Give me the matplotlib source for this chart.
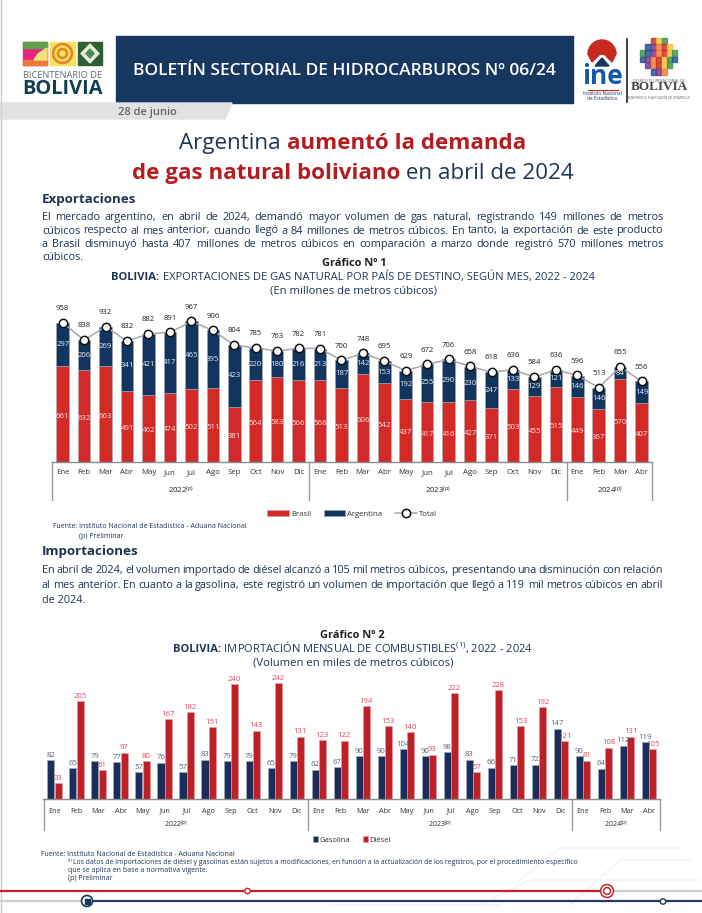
import matplotlib
matplotlib.use("Agg")
import matplotlib.pyplot as plt
from matplotlib.patches import Rectangle, Polygon, Circle, Wedge

plt.rcParams['font.family'] = ['Open Sans', 'DejaVu Sans']
plt.rcParams['mathtext.default'] = 'regular'

# datos grafico 1
meses = ['Ene', 'Feb', 'Mar', 'Abr', 'May', 'Jun', 'Jul', 'Ago', 'Sep', 'Oct', 'Nov', 'Dic',
         'Ene', 'Feb', 'Mar', 'Abr', 'May', 'Jun', 'Jul', 'Ago', 'Sep', 'Oct', 'Nov', 'Dic',
         'Ene', 'Feb', 'Mar', 'Abr']
brasil = [661, 632, 663, 491, 462, 474, 502, 511, 381, 564, 583, 566,
          568, 513, 606, 542, 437, 417, 416, 427, 371, 503, 455, 515,
          449, 367, 570, 407]
argentina = [297, 206, 269, 341, 421, 417, 465, 395, 423, 220, 180, 216,
             213, 187, 142, 153, 192, 255, 290, 230, 247, 133, 129, 121,
             146, 146, 84, 149]
total = [958, 838, 932, 832, 882, 891, 967, 906, 804, 785, 763, 782,
         781, 700, 748, 695, 629, 672, 706, 658, 618, 636, 584, 636,
         596, 513, 655, 556]

# datos grafico 2
gasolina = [82, 65, 79, 77, 57, 76, 57, 83, 79, 79, 65, 79,
            62, 67, 90, 90, 104, 90, 98, 83, 66, 71, 72, 147,
            90, 64, 112, 119]
diesel = [33, 205, 61, 97, 80, 167, 182, 151, 240, 143, 242, 131,
          123, 122, 194, 153, 140, 93, 222, 57, 228, 153, 192, 121,
          81, 108, 131, 105]

anios = ['2022$^{(p)}$', '2023$^{(p)}$', '2024$^{(p)}$']
cortes = [-0.5, 11.5, 23.5, 27.5]

NAVY = '#16375f'
TXT = '#1d3557'
W, H = 702, 913

fig = plt.figure(figsize=(W / 100, H / 100), dpi=100)
page = fig.add_axes([0, 0, 1, 1])
page.set_xlim(0, W)
page.set_ylim(H, 0)
page.axis('off')


def px_axes(left, right, top, bottom):
    return fig.add_axes([left / W, 1 - bottom / H, (right - left) / W, (bottom - top) / H])


def mixed(x, y, parts, size, center=False):
    # texto con tramos de distinto color/peso en la misma linea
    r = fig.canvas.get_renderer()
    items = []
    for s, color, weight in parts:
        t = page.text(0, y, s.replace(' ', '\u00a0'), color=color, fontweight=weight, fontsize=size,
                      va='baseline', ha='left')
        items.append((t, t.get_window_extent(r).width))
    pos = x - sum(w for _, w in items) / 2 if center else x
    for t, w in items:
        t.set_x(pos)
        pos += w


def justified(x0, x1, y, line, size):
    # el boletin tiene el parrafo justificado, se reparte el espacio entre palabras
    r = fig.canvas.get_renderer()
    words = line.split()
    items = [page.text(0, y, w, color=TXT, fontsize=size, va='baseline', ha='left') for w in words]
    widths = [t.get_window_extent(r).width for t in items]
    gap = (x1 - x0 - sum(widths)) / (len(words) - 1)
    pos = x0
    for t, w in zip(items, widths):
        t.set_x(pos)
        pos += w + gap


# ---- encabezado
page.plot([0.5, 0.5], [0, H], color='#cfcfcf', lw=1)
page.add_patch(Rectangle((116, 36), 457, 67, color=NAVY))
page.text(344.5, 71, 'BOLETÍN SECTORIAL DE HIDROCARBUROS Nº 06/24', color='white', fontsize=12.5,
          fontweight='semibold', ha='center', va='center')
page.add_patch(Polygon([(0, 103), (232, 103), (225, 119), (0, 119)], color='#e2e2e2'))
page.text(118, 112, '28 de junio', color='#666666', fontsize=8, fontweight='semibold', va='center')

# logo bicentenario (simplificado)
page.add_patch(Rectangle((23, 42), 24, 23, color='#e6267e'))
page.add_patch(Rectangle((23, 42), 24, 6, color='#5fa14b'))
page.add_patch(Rectangle((23, 60), 24, 5, color='#f0793a'))
page.add_patch(Polygon([(47, 48), (47, 60), (34, 60), (38, 54)], color='#f6e27a'))
page.add_patch(Rectangle((50, 42), 25, 23, color='#f2e45c'))
for rad, col in zip([10, 7.5, 5, 2.5], ['#ef7d2e', '#f2e45c', '#ef7d2e', '#f2e45c']):
    page.add_patch(Circle((62.5, 53.5), rad, color=col))
page.add_patch(Rectangle((78, 42), 24, 23, color='#2f5d34'))
page.add_patch(Polygon([(90, 44), (99, 53.5), (90, 63), (81, 53.5)], color='#e8ecd8'))
page.add_patch(Polygon([(90, 49), (94, 53.5), (90, 58), (86, 53.5)], color='#4c8a57'))
page.text(62.5, 75.7, 'BICENTENARIO DE', color='#5d6f78', fontsize=6.7, ha='center', va='center')
page.text(62.5, 89, 'BOLIVIA', color='#123f52', fontsize=14.4, fontweight='bold', ha='center', va='center')

# logo ine
page.add_patch(Wedge((602, 54), 14, 180, 360, color='#c8291f'))
page.add_patch(Polygon([(588, 54), (592, 62), (602, 52), (612, 62), (616, 54)], color='#c8291f'))
page.add_patch(Polygon([(595, 66), (602, 58), (609, 66)], color='#16375f'))
page.text(602, 77, 'ine', color='#1757a6', fontsize=19, fontweight='bold', ha='center', va='center')
page.plot([588, 618], [90, 90], color='#c8291f', lw=0.8)
page.text(602, 93.5, 'Instituto Nacional', color=TXT, fontsize=3.4, ha='center', va='center')
page.text(602, 98, 'de Estadística', color=TXT, fontsize=3.4, ha='center', va='center')
page.plot([626.7, 626.7], [39, 102], color='#222222', lw=1.2)

# escudo bolivia (simplificado)
colores = ['#c8291f', '#f2c230', '#3f8f4a', '#1d4f91', '#7a2f86', '#ef7d2e']
k = 0
for fila, (ini, n) in enumerate([(2, 3), (1, 5), (0, 7), (0, 7), (1, 5), (2, 3)]):
    for c in range(n):
        page.add_patch(Rectangle((640 + (ini + c) * 5.4, 38 + fila * 6.2), 5, 5.6,
                                 color=colores[k % 6], alpha=0.8))
        k += 1
page.text(659, 81, 'ESTADO PLURINACIONAL DE', color='#555555', fontsize=2.8, ha='center', va='center')
page.text(659, 87.5, 'BOLIVIA', color='#444444', fontsize=9.5, family='Liberation Serif',
          fontweight='bold', ha='center', va='center')
page.text(659, 98, 'MINISTERIO DE PLANIFICACIÓN DEL DESARROLLO', color='#555555', fontsize=2,
          ha='center', va='center')

# ---- titulo
ROJO_T = '#b31d22'
mixed(352.5, 149, [('Argentina ', TXT, 'normal'), ('aumentó la demanda', ROJO_T, 'bold')], 16.1, center=True)
mixed(353, 179, [('de gas natural boliviano', ROJO_T, 'bold'), (' en abril de 2024', TXT, 'normal')], 16.1, center=True)

# ---- textos
page.text(42, 199, 'Exportaciones', color=TXT, fontsize=9.6, fontweight='bold', va='center')
cuerpo1 = ['El mercado argentino, en abril de 2024, demandó mayor volumen de gas natural, registrando 149 millones de metros',
           'cúbicos respecto al mes anterior, cuando llegó a 84 millones de metros cúbicos. En tanto, la exportación de este producto',
           'a Brasil disminuyó hasta 407 millones de metros cúbicos en comparación a marzo donde registró 570 millones metros']
for yy, s in zip([220, 233.5, 247], cuerpo1):
    justified(42, 663, yy, s, 7.8)
page.text(42, 260, 'cúbicos.', color=TXT, fontsize=7.8, va='baseline')

page.text(42, 552, 'Importaciones', color=TXT, fontsize=9.6, fontweight='bold', va='center')
cuerpo2 = ['En abril de 2024, el volumen importado de diésel alcanzó a 105 mil metros cúbicos, presentando una disminución con relación',
           'al mes anterior. En cuanto a la gasolina,  este registró un volumen de importación que llegó a 119 mil metros cúbicos en abril']
for yy, s in zip([573, 588], cuerpo2):
    justified(42, 663, yy, s, 7.8)
page.text(42, 603, 'de 2024.', color=TXT, fontsize=7.8, va='baseline')

# titulos de graficos
page.text(354, 263, 'Gráfico Nº 1', color='#222222', fontsize=7.9, fontweight='bold', ha='center', va='center')
mixed(353, 280, [('BOLIVIA:', TXT, 'bold'),
                 (' EXPORTACIONES DE GAS NATURAL POR PAÍS DE DESTINO, SEGÚN MES, 2022 - 2024', TXT, 'normal')],
      8.05, center=True)
page.text(353, 291, '(En millones de metros cúbicos)', color=TXT, fontsize=8.1, ha='center', va='center')

page.text(352, 635, 'Gráfico Nº 2', color='#222222', fontsize=7.9, fontweight='bold', ha='center', va='center')
mixed(353, 652, [('BOLIVIA:', TXT, 'bold'),
                 (' IMPORTACIÓN MENSUAL DE COMBUSTIBLES$^{(1)}$, 2022 - 2024', TXT, 'normal')],
      8.05, center=True)
page.text(353, 663, '(Volumen en miles de metros cúbicos)', color=TXT, fontsize=8.1, ha='center', va='center')

x = list(range(len(meses)))

# ---- grafico 1
ESC1 = 0.1457
ax1 = px_axes(52, 652.3, 295, 462.3)
ax1.set_xlim(-0.5, 27.5)
ax1.set_ylim(0, (462.3 - 295) / ESC1)
ax1.bar(x, brasil, width=0.585, color='#d32a27', edgecolor='#b9a9ad', linewidth=0.5, label='Brasil')
ax1.bar(x, argentina, width=0.585, bottom=brasil, color='#12355f', edgecolor='#9aa3b0', linewidth=0.5,
        label='Argentina')
ax1.plot(x, total, color='#a8a8a8', lw=1.1, marker='o', ms=6, mfc='white', mec='#111111', mew=1.1, label='Total',
         clip_on=False)
for i in x:
    ax1.text(i, brasil[i] / 2 - 15, str(brasil[i]), color='#fbe3e3', fontsize=5.6, ha='center', va='center')
    ax1.text(i, brasil[i] + argentina[i] / 2, str(argentina[i]), color='#e8edf3', fontsize=5.6, ha='center', va='center')
    ax1.text(i, total[i] + 98, str(total[i]), color='#222222', fontsize=5.6, ha='center', va='center')

# ---- grafico 2
ESC2 = 0.479
ax2 = px_axes(43.3, 660, 672, 799.3)
ax2.set_xlim(-0.51, 27.5)
ax2.set_ylim(0, (799.3 - 672) / ESC2)
ANCHO = 0.32
ax2.bar([i - 0.165 for i in x], gasolina, width=ANCHO, color='#1b2d5a', edgecolor='#a3abbd', linewidth=0.4,
        label='Gasolina')
ax2.bar([i + 0.165 for i in x], diesel, width=ANCHO, color='#c11f28', edgecolor='#e3a5a8', linewidth=0.4,
        label='Diésel')
for i in x:
    ax2.text(i - 0.165, gasolina[i] + 3, str(gasolina[i]), color='#55627f', fontsize=5.6, ha='center', va='bottom')
    ax2.text(i + 0.165, diesel[i] + 3, str(diesel[i]), color='#e2485f', fontsize=5.6, ha='center', va='bottom')

# ejes de meses y anios
for ax, esc, y_mes, y_anio, y_fin, fs in [(ax1, ESC1, 8.7, 27.7, 37.7, 5.7), (ax2, ESC2, 9.7, 24.7, 30.7, 5.2)]:
    ax.patch.set_alpha(0)
    for s in ['top', 'left', 'right']:
        ax.spines[s].set_visible(False)
    ax.spines['bottom'].set_color('#8c8c8c')
    ax.spines['bottom'].set_linewidth(1)
    ax.set_yticks([])
    ax.set_xticks(x)
    ax.set_xticklabels(meses, fontsize=fs, color='#333333')
    ax.tick_params(axis='x', length=0, pad=y_mes - fs * 0.7)
    for c in cortes:
        ax.plot([c, c], [0, -y_fin / esc], color='#9a9a9a', lw=1, clip_on=False)
    for a, (c0, c1) in zip(anios, zip(cortes[:-1], cortes[1:])):
        ax.text((c0 + c1) / 2, -y_anio / esc, a, fontsize=fs - 0.2, color='#222222', ha='center', va='center')

# leyendas
h1, l1 = ax1.get_legend_handles_labels()
orden = [l1.index('Brasil'), l1.index('Argentina'), l1.index('Total')]
fig.legend([h1[i] for i in orden], [l1[i] for i in orden], loc='center', bbox_to_anchor=(352 / W, 1 - 514 / H),
           ncol=3, frameon=False, fontsize=5.6, handlelength=2.8, handleheight=0.7, handletextpad=0.25,
           columnspacing=1.6, labelcolor='#333333')
h2, l2 = ax2.get_legend_handles_labels()
fig.legend(h2, l2, loc='center', bbox_to_anchor=(352 / W, 1 - 840 / H), ncol=2, frameon=False, fontsize=5.5,
           handlelength=0.65, handleheight=0.9, handletextpad=0.15, columnspacing=1.7, labelcolor='#333333')

# fuentes
page.text(53, 527, 'Fuente: Instituto Nacional de Estadística - Aduana Nacional', color=TXT, fontsize=5.05, va='center')
page.text(79, 536, '(p) Preliminar', color=TXT, fontsize=5.05, va='center')
page.text(41, 855, 'Fuente: Instituto Nacional de Estadística - Aduana Nacional', color=TXT, fontsize=5, va='center')
page.text(68, 861, '(1)', color=TXT, fontsize=3.2, va='center')
page.text(73, 863, 'Los datos de importaciones de diésel y gasolinas están sujetos a modificaciones, en función a la '
          'actualización de los registros, por el procedimiento específico', color=TXT, fontsize=4.95, va='center')
page.text(68, 871, 'que se aplica en base a normativa vigente.', color=TXT, fontsize=5, va='center')
page.text(68, 879, '(p) Preliminar', color=TXT, fontsize=5, va='center')

# ---- adorno inferior
for xs, ys in [([520, 560, 680], [880, 848, 848]), ([480, 530, 545, 700], [905, 880, 880, 880]),
               ([570, 620, 690], [905, 860, 860]), ([330, 500], [905, 905])]:
    page.plot(xs, ys, color='#f3f3f3', lw=1.2, zorder=0)
page.plot([0, 603], [890.7, 890.7], color='#c8202b', lw=1.6)
page.plot([603, W], [890.7, 890.7], color='#cfcfcf', lw=1.6)
page.plot([0, 80], [901.5, 901.5], color='#cfcfcf', lw=1.6)
page.plot([92, W], [901.5, 901.5], color='#27386f', lw=1.6)
page.add_patch(Circle((247.5, 891), 2.7, fc='white', ec='#c8202b', lw=1, zorder=3))
page.add_patch(Circle((663, 901.5), 2.7, fc='white', ec='#16375f', lw=1, zorder=3))
for rad, col in zip([6.5, 5, 3.5, 2], ['#c8202b', 'white', '#c8202b', 'white']):
    page.add_patch(Circle((607, 891), rad, color=col, zorder=3))
page.add_patch(Circle((87, 901), 5.5, fc='white', ec='#16375f', lw=1.2, zorder=3))
page.add_patch(Rectangle((84.5, 899), 5, 5, color='#16375f', zorder=4))

fig.savefig('out.png', dpi=100)
